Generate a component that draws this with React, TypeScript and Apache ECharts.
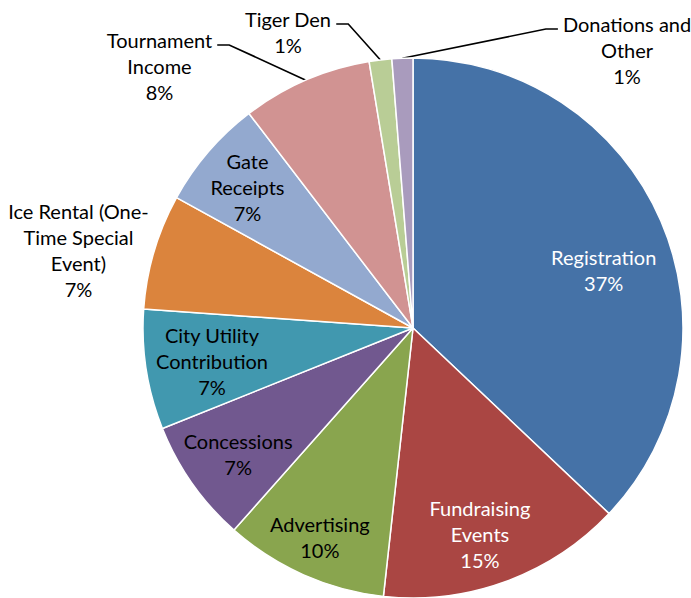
import React, { useEffect, useRef } from "react";
import * as echarts from "echarts";

// ---- data ----
const categories = [
  "Registration",
  "Fundraising\nEvents",
  "Advertising",
  "Concessions",
  "City Utility\nContribution",
  "Ice Rental (One-\nTime Special\nEvent)",
  "Gate\nReceipts",
  "Tournament\nIncome",
  "Tiger Den",
  "Donations and\nOther",
];
const values = [37.1, 14.7, 9.8, 7.4, 7.2, 6.9, 6.6, 7.8, 1.35, 1.25];

// ---- styles / layout ----
const colors = [
  "#4572A7",
  "#AA4643",
  "#89A54E",
  "#71588F",
  "#4198AF",
  "#DB843D",
  "#93A9CF",
  "#D19392",
  "#B9CD96",
  "#A99BBD",
];
const labelColors = ["#ffffff", "#ffffff", "#000000", "#000000", "#000000", "#000000", "#000000", "#000000", "#000000", "#000000"];
const outsideLabel = [false, false, false, false, false, true, false, true, true, true];
const hasLeader = [false, false, false, false, false, false, false, true, true, true];
// label centre in polar coordinates around the pie centre: [degrees clockwise from 12 o'clock, distance px]
const labelPolar: [number, number][] = [
  [73.0, 199.4],
  [162.0, 216.6],
  [204.0, 229],
  [234.2, 215.6],
  [260.7, 203.7],
  [283.1, 343.5],
  [310.4, 217.4],
  [315.95, 364.6],
  [337.1, 321.3],
  [37.6, 350.8],
];

const CX = 413;
const CY = 328;
const R = 270;
const LINE_H = 26;

export default function App() {
  const ref = useRef<HTMLDivElement>(null);

  useEffect(() => {
    if (!ref.current) return;
    const chart = echarts.init(ref.current, undefined, { renderer: "svg" });

    const total = values.reduce((a, b) => a + b, 0);
    const midAngles: number[] = [];
    let acc = 0;
    values.forEach((v) => {
      midAngles.push(((acc + v / 2) / total) * Math.PI * 2);
      acc += v;
    });

    chart.setOption({
      animation: false,
      backgroundColor: "#ffffff",
      series: [
        {
          type: "pie",
          center: [CX, CY],
          radius: R,
          startAngle: 90,
          clockwise: true,
          avoidLabelOverlap: false,
          minShowLabelAngle: 0,
          emphasis: { disabled: true },
          itemStyle: { borderColor: "#ffffff", borderWidth: 1.5 },
          label: {
            show: true,
            fontFamily: "Lato",
            fontSize: 20,
            lineHeight: LINE_H,
            align: "center",
            formatter: (p: any) => `${p.name}\n${Math.round(p.percent)}%`,
          },
          labelLine: {
            show: false,
            smooth: false,
            lineStyle: { color: "#000000", width: 1.6 },
          },
          labelLayout: (params: any) => {
            const i = params.dataIndex;
            const [ang, r] = labelPolar[i];
            const a = (ang * Math.PI) / 180;
            const x = CX + r * Math.sin(a);
            const y = CY - r * Math.cos(a);
            const res: any = { x, y, align: "center", verticalAlign: "middle" };
            if (hasLeader[i]) {
              const m = midAngles[i];
              const ex = CX + R * Math.sin(m);
              const ey = CY - R * Math.cos(m);
              const w = params.labelRect.width;
              const h = params.labelRect.height;
              const top = y - h / 2;
              const ly = top + LINE_H / 2 + 5;
              const side = x < ex ? 1 : -1;
              const lx = x + side * (w / 2 + 5);
              const bx = lx + side * 12;
              res.labelLinePoints = [
                [ex, ey],
                [bx, ly],
                [lx, ly],
              ];
            }
            return res;
          },
          data: values.map((v, i) => ({
            value: v,
            name: categories[i],
            itemStyle: { color: colors[i] },
            label: {
              position: outsideLabel[i] ? "outside" : "inside",
              color: labelColors[i],
            },
            labelLine: { show: hasLeader[i] },
          })),
        },
      ],
    });

    return () => chart.dispose();
  }, []);

  return (
    <div
      ref={ref}
      style={{ position: "fixed", left: 0, top: 0, width: 691, height: 598 }}
    />
  );
}
